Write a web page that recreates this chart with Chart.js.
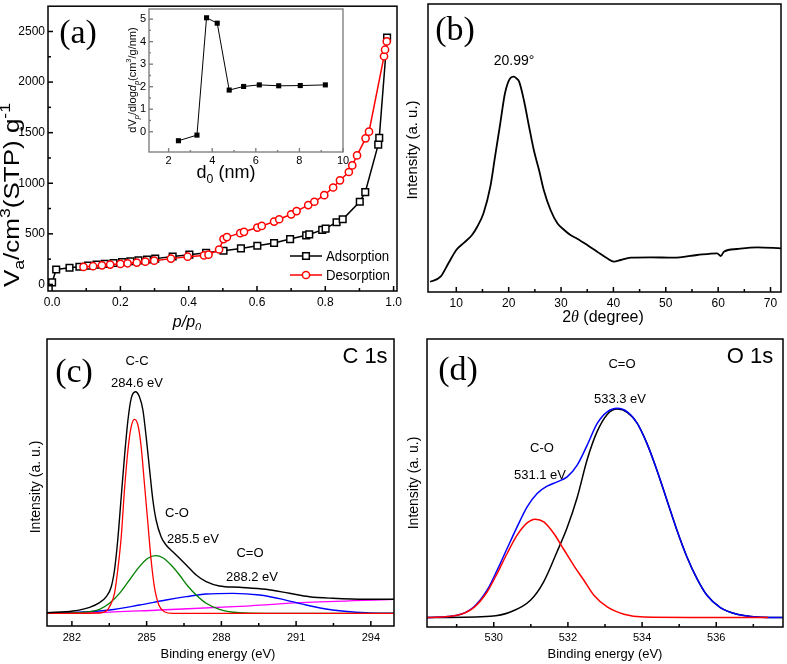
<!doctype html>
<html lang="en">
  <head>
    <meta charset="UTF-8" />
    <title>Pore, XRD and XPS characterization</title>
    <script src="https://cdn.jsdelivr.net/npm/chart.js"></script>
    <style>
      body { margin: 0; background: #fff; }
      #wrap { position: relative; width: 787px; height: 664px; overflow: hidden; }
      canvas { position: absolute; }
    </style>
  </head>
  <body>
    <div id="wrap">
      <canvas id="chartA" width="410" height="330" style="left:0px;top:0px"></canvas>
      <canvas id="chartInset" width="240" height="185" style="left:110px;top:0px"></canvas>
      <canvas id="chartB" width="387" height="330" style="left:400px;top:0px"></canvas>
      <canvas id="chartC" width="400" height="334" style="left:0px;top:330px"></canvas>
      <canvas id="chartD" width="387" height="334" style="left:400px;top:330px"></canvas>
    </div>

    <script>
      // (a) N2 isotherm, p/p0 vs adsorbed volume
      const adsP = [0.0, 0.012, 0.051, 0.08, 0.105, 0.13, 0.154, 0.18, 0.205, 0.229, 0.253, 0.278, 0.302, 0.353, 0.402, 0.451, 0.502, 0.553, 0.601, 0.65, 0.697, 0.744, 0.753, 0.791, 0.801, 0.833, 0.851, 0.901, 0.917, 0.955, 0.958, 0.981]
      const adsV = [20, 147, 165, 175, 186, 195, 203, 212, 220, 229, 238, 246, 255, 276, 294, 312, 333, 356, 382, 409, 448, 485, 494, 539, 552, 615, 644, 817, 912, 1382, 1448, 2441]
      const desP = [0.092, 0.12, 0.146, 0.17, 0.2, 0.221, 0.248, 0.273, 0.299, 0.348, 0.397, 0.445, 0.458, 0.489, 0.502, 0.512, 0.551, 0.562, 0.601, 0.614, 0.65, 0.665, 0.7, 0.716, 0.75, 0.768, 0.797, 0.823, 0.843, 0.869, 0.879, 0.893, 0.918, 0.928, 0.972, 0.975, 0.98]
      const desV = [173, 180, 189, 196, 203, 209, 216, 225, 235, 255, 274, 287, 294, 345, 448, 468, 507, 520, 562, 578, 621, 644, 693, 725, 784, 817, 882, 958, 1029, 1111, 1176, 1275, 1444, 1510, 2255, 2320, 2402]
      const aXTicks = [0, 0.2, 0.4, 0.6, 0.8, 1.0]
      const aXMinor = [0.1, 0.3, 0.5, 0.7, 0.9]
      const aYTicks = [0, 500, 1000, 1500, 2000, 2500]
      const aYMinor = [250, 750, 1250, 1750, 2250]

      // (a) inset, pore size distribution
      const poreD = [2.45, 3.3, 3.74, 4.23, 4.78, 5.44, 6.16, 7.05, 8.04, 9.19]
      const poreDV = [-0.4, -0.15, 5.06, 4.82, 1.85, 2.01, 2.08, 2.04, 2.05, 2.08]
      const insetXTicks = [2, 4, 6, 8, 10]
      const insetXMinor = [3, 5, 7, 9]
      const insetYTicks = [0, 1, 2, 3, 4, 5]
      const insetYMinor = [0.5, 1.5, 2.5, 3.5, 4.5]

      // (b) XRD
      const xrdAngle = [5.0, 7.0, 8.5, 10.0, 11.5, 13.0, 14.0, 15.2, 16.5, 17.4, 18.4, 19.3, 20.3, 21.0, 21.5, 22.0, 22.9, 23.9, 24.8, 25.8, 26.7, 28.0, 29.3, 30.6, 31.8, 33.1, 35.0, 36.9, 38.8, 40.1, 41.4, 43.3, 47.1, 51.5, 56.0, 59.8, 60.5, 61.1, 63.6, 67.5, 72.0]
      const xrdInt = [10.3, 15.3, 28.7, 42, 49.3, 57, 65.3, 78.7, 105.3, 135.3, 168.7, 198.7, 213.7, 215.3, 213.5, 210.3, 192, 165.3, 142, 122, 102, 82, 68.7, 62, 57, 53.3, 47, 40.3, 33.7, 30.3, 32, 34.3, 34.7, 34.3, 37, 38.7, 36, 40.3, 43, 44.7, 43.7]
      const bXTicks = [10, 20, 30, 40, 50, 60, 70]
      const bXMinor = [15, 25, 35, 45, 55, 65]

      // (c) C 1s
      const c1sE = [281.0, 282.04, 282.71, 283.11, 283.38, 283.58, 283.71, 283.84, 283.98, 284.11, 284.25, 284.38, 284.55, 284.71, 284.85, 284.98, 285.12, 285.25, 285.38, 285.58, 285.78, 286.05, 286.32, 286.59, 286.99, 287.39, 287.92, 288.72, 289.79, 290.73, 291.53, 292.47, 293.8, 295.0]
      const c1sI = [0.6, 2.3, 6, 10.7, 16.6, 26.6, 43.3, 73.3, 116.6, 156.6, 193.3, 215, 221.6, 216.6, 203.3, 176.6, 143.3, 113.3, 93.3, 76.6, 68.3, 61.6, 55, 48.3, 38.3, 31.6, 27.3, 26, 24, 20, 16.6, 15, 14, 14]
      const ccE = [281.0, 283.11, 283.38, 283.51, 283.71, 283.84, 283.98, 284.11, 284.25, 284.38, 284.51, 284.65, 284.78, 284.91, 285.05, 285.18, 285.31, 285.49, 285.71, 286.05, 295.0]
      const ccI = [0, 0.3, 2.3, 6.6, 20, 43.3, 76.6, 123.3, 163.3, 186.6, 194, 188.3, 166.6, 130, 90, 53.3, 26.6, 8.3, 1.6, 0, 0]
      const coE = [281.0, 282.44, 283.11, 283.51, 283.91, 284.31, 284.71, 285.05, 285.36, 285.65, 285.98, 286.32, 286.65, 286.99, 287.39, 287.92, 288.72, 289.79, 295.0]
      const coI = [0, 1, 4, 10, 20, 33.3, 46.6, 55, 57.6, 55.6, 48.3, 38.3, 27.3, 18.3, 10, 4, 0.6, 0, 0]
      const cdoE = [281.0, 282.44, 283.51, 284.71, 285.78, 286.59, 287.39, 288.46, 289.53, 290.46, 291.4, 292.47, 293.8, 295.0]
      const cdoI = [0, 1.3, 3.3, 8.3, 13.3, 16.6, 19.3, 20, 18.3, 14, 8.3, 3.3, 0.6, 0]
      const bgE = [281.0, 283.0, 285.5, 288.5, 291.2, 295.0]
      const bgI = [0, 0.6, 3.3, 6.6, 10.6, 14]
      const cXTicks = [282, 285, 288, 291, 294]
      const cXMinor = [283.5, 286.5, 289.5, 292.5]

      // (d) O 1s
      const o1sE = [528.2, 529.01, 529.46, 529.82, 530.09, 530.36, 530.63, 530.9, 531.17, 531.44, 531.71, 531.98, 532.25, 532.52, 532.79, 533.06, 533.33, 533.6, 533.87, 534.13, 534.4, 534.67, 534.94, 535.21, 535.48, 535.75, 536.11, 536.56, 537.1, 537.8]
      const o1sI = [0, 2.3, 10.6, 27.3, 47.3, 69, 90.6, 110.6, 124, 131.3, 135.6, 140.6, 152.3, 172.3, 194, 205.6, 209, 205.6, 194, 174, 147.3, 117.3, 87.3, 60.6, 39, 22.3, 10, 3.3, 0.6, 0]
      const oCoE = [528.2, 529.01, 529.46, 529.82, 530.09, 530.36, 530.63, 530.9, 531.12, 531.35, 531.62, 531.89, 532.16, 532.43, 532.7, 533.06, 533.51, 534.05, 537.4]
      const oCoI = [0, 2.3, 10, 25.6, 44, 64, 82.3, 94.6, 98.3, 95.6, 84, 68, 52, 37.3, 22.3, 10.6, 3.3, 0.6, 0]
      const oCdoE = [528.2, 529.91, 530.45, 530.99, 531.35, 531.71, 531.98, 532.25, 532.52, 532.79, 533.06, 533.33, 533.6, 533.87, 534.13, 534.4, 534.67, 534.94, 535.21, 535.48, 535.75, 536.11, 536.56, 537.1, 537.8]
      const oCdoI = [0, 1.3, 5.6, 17.3, 36, 66, 90, 120, 158, 186, 203, 208.3, 205, 194, 174, 147.3, 117.3, 87.3, 60.6, 39, 22.3, 10, 3.3, 0.6, 0]
      const dXTicks = [530, 532, 534, 536]
      const dXMinor = [529, 531, 533, 535, 537]

      const SANS = '"Liberation Sans", Arial, sans-serif'
      const SERIF = '"Liberation Serif", "Times New Roman", serif'
      Chart.defaults.font.family = SANS
      Chart.defaults.color = '#000'
      Chart.defaults.animation = false

      const pts = (xs, ys) => xs.map((x, i) => ({ x, y: ys[i] }))

      // text with sub/superscript parts, x/y is the centre of the line
      function drawRich(ctx, item) {
        const size = item.size || 13
        const family = item.family || SANS
        const parts = typeof item.text === 'string' ? [{ t: item.text }] : item.text
        const fontFor = (p) => {
          const s = p.sub || p.sup ? size * 0.68 : size
          return (p.italic ? 'italic ' : '') + s + 'px ' + (p.family || family)
        }
        ctx.save()
        ctx.translate(item.x, item.y)
        if (item.rotate) ctx.rotate(item.rotate)
        ctx.scale(item.sx || 1, item.sy || 1)
        ctx.fillStyle = item.color || '#000'
        ctx.textBaseline = 'alphabetic'
        let total = 0
        const widths = parts.map((p) => {
          ctx.font = fontFor(p)
          const w = ctx.measureText(p.t).width
          total += w
          return w
        })
        let x = item.align === 'left' ? 0 : -total / 2
        const base = size * 0.36
        parts.forEach((p, i) => {
          ctx.font = fontFor(p)
          const dy = p.sub ? size * 0.25 : p.sup ? -size * 0.42 : 0
          ctx.fillText(p.t, x, base + dy)
          x += widths[i]
        })
        ctx.restore()
      }

      // frame box, inward ticks and free text
      function decor(cfg) {
        return {
          id: 'decor',
          afterDatasetsDraw(chart) {
            const { ctx, chartArea: a, scales } = chart
            ctx.save()
            ctx.strokeStyle = cfg.frameColor || '#000'
            ctx.lineWidth = cfg.frameWidth || 1.5
            const mark = (scale, values, len) => {
              values.forEach((v) => {
                const p = scale.getPixelForValue(v)
                ctx.beginPath()
                if (scale.isHorizontal()) {
                  ctx.moveTo(p, a.bottom)
                  ctx.lineTo(p, a.bottom - len)
                } else {
                  ctx.moveTo(a.left, p)
                  ctx.lineTo(a.left + len, p)
                }
                ctx.stroke()
              })
            }
            const major = cfg.major || 5
            const minor = cfg.minor || 3
            if (cfg.xMajor) mark(scales.x, cfg.xMajor, major)
            if (cfg.xMinor) mark(scales.x, cfg.xMinor, minor)
            if (cfg.yMajor) mark(scales.y, cfg.yMajor, major)
            if (cfg.yMinor) mark(scales.y, cfg.yMinor, minor)
            ctx.strokeRect(a.left, a.top, a.right - a.left, a.bottom - a.top)
            ctx.restore()
          },
          afterDraw(chart) {
            ;(cfg.texts || []).forEach((t) => drawRich(chart.ctx, t))
            if (cfg.extra) cfg.extra(chart.ctx)
          },
        }
      }

      function xAxis(min, max, ticks, size, pad, height, fmt) {
        return {
          type: 'linear',
          min,
          max,
          afterFit: (s) => {
            s.height = height
            s.paddingLeft = s.paddingRight = s.paddingTop = s.paddingBottom = 0
          },
          afterBuildTicks: (s) => {
            s.ticks = ticks.map((v) => ({ value: v }))
          },
          grid: { display: false, drawTicks: false },
          border: { display: false },
          ticks: { font: { size }, color: '#000', padding: pad, maxRotation: 0, autoSkip: false, callback: fmt || ((v) => String(v)) },
        }
      }

      function yAxis(min, max, ticks, size, pad, width) {
        const show = !!ticks
        return {
          type: 'linear',
          min,
          max,
          display: show,
          afterFit: (s) => {
            s.width = show ? width : 0
            s.paddingLeft = s.paddingRight = s.paddingTop = s.paddingBottom = 0
          },
          afterBuildTicks: (s) => {
            if (show) s.ticks = ticks.map((v) => ({ value: v }))
          },
          grid: { display: false, drawTicks: false },
          border: { display: false },
          ticks: { display: show, font: { size: size || 11 }, color: '#000', padding: pad || 3, autoSkip: false, callback: (v) => String(v) },
        }
      }

      function baseOptions(padding, x, y) {
        return {
          responsive: false,
          animation: false,
          layout: { padding },
          scales: { x, y },
          plugins: { legend: { display: false }, tooltip: { enabled: false } },
        }
      }

      function curve(xs, ys, color, width) {
        return {
          data: pts(xs, ys),
          borderColor: color,
          borderWidth: width || 1.3,
          pointRadius: 0,
          cubicInterpolationMode: 'monotone',
          fill: false,
        }
      }

      const UP = -Math.PI / 2

      // ---------- (a) ----------
      new Chart(document.getElementById('chartA'), {
        type: 'line',
        data: {
          datasets: [
            {
              data: pts(desP, desV),
              borderColor: '#ff0000',
              borderWidth: 1.5,
              pointStyle: 'circle',
              pointRadius: 3.6,
              pointBorderWidth: 1.5,
              pointBorderColor: '#ff0000',
              pointBackgroundColor: '#fff',
              tension: 0,
            },
            {
              data: pts(adsP, adsV),
              borderColor: '#000',
              borderWidth: 1.5,
              pointStyle: 'rect',
              pointRadius: 4.7,
              pointBorderWidth: 1.5,
              pointBorderColor: '#000',
              pointBackgroundColor: '#fff',
              tension: 0,
            },
          ],
        },
        options: baseOptions(
          { left: 0, top: 4, right: 13, bottom: 0 },
          xAxis(-0.012, 1.01, aXTicks, 12, 4, 39, (v) => v.toFixed(1)),
          yAxis(-65, 2750, aYTicks, 12, 3, 48),
        ),
        plugins: [
          decor({
            xMajor: aXTicks,
            xMinor: aXMinor,
            yMajor: aYTicks,
            yMinor: aYMinor,
            texts: [
              { x: 78, y: 31, text: '(a)', size: 34, family: SERIF },
              {
                x: 11,
                y: 195,
                rotate: UP,
                size: 26,
                sy: 0.82,
                text: [{ t: 'V' }, { t: 'a', sub: true }, { t: '/cm' }, { t: '3', sup: true }, { t: '(STP) g' }, { t: '-1', sup: true }],
              },
              { x: 187, y: 321, size: 16, text: [{ t: 'p/p', italic: true }, { t: '0', sub: true, italic: true }] },
            ],
            extra: (ctx) => {
              const rows = [
                { y: 256, color: '#000', style: 'rect', label: 'Adsorption' },
                { y: 275, color: '#ff0000', style: 'circle', label: 'Desorption' },
              ]
              rows.forEach((r) => {
                ctx.save()
                ctx.strokeStyle = r.color
                ctx.lineWidth = 1.5
                ctx.beginPath()
                ctx.moveTo(290, r.y)
                ctx.lineTo(322, r.y)
                ctx.stroke()
                ctx.fillStyle = '#fff'
                ctx.beginPath()
                if (r.style === 'rect') ctx.rect(302.7, r.y - 3.3, 6.6, 6.6)
                else ctx.arc(306, r.y, 3.6, 0, Math.PI * 2)
                ctx.fill()
                ctx.stroke()
                ctx.restore()
                drawRich(ctx, { x: 326, y: r.y, size: 15, sx: 0.88, align: 'left', text: r.label })
              })
            },
          }),
        ],
      })

      // ---------- (a) inset ----------
      new Chart(document.getElementById('chartInset'), {
        type: 'line',
        data: {
          datasets: [
            {
              data: pts(poreD, poreDV),
              borderColor: '#000',
              borderWidth: 1,
              pointStyle: 'rect',
              pointRadius: 3.6,
              pointBorderWidth: 0,
              pointBackgroundColor: '#000',
              tension: 0,
            },
          ],
        },
        options: baseOptions(
          { left: 0, top: 9, right: 7, bottom: 0 },
          xAxis(1.1, 10, insetXTicks, 11, 2, 33),
          yAxis(-0.9, 5.45, insetYTicks, 11, 3, 39),
        ),
        plugins: [
          decor({
            frameColor: '#808080',
            frameWidth: 1.4,
            major: 4,
            minor: 2,
            xMajor: insetXTicks,
            xMinor: insetXMinor,
            yMajor: insetYTicks,
            yMinor: insetYMinor,
            texts: [
              {
                x: 22,
                y: 80,
                rotate: UP,
                size: 11,
                text: [
                  { t: 'dV' },
                  { t: 'p', sub: true, italic: true },
                  { t: '/dlog' },
                  { t: 'd', italic: true },
                  { t: 'p', sub: true, italic: true },
                  { t: '(cm' },
                  { t: '3', sup: true },
                  { t: '/g/nm)' },
                ],
              },
              { x: 116, y: 172, size: 18, text: [{ t: 'd' }, { t: '0', sub: true }, { t: ' (nm)' }] },
            ],
          }),
        ],
      })

      // ---------- (b) ----------
      new Chart(document.getElementById('chartB'), {
        type: 'line',
        data: { datasets: [curve(xrdAngle, xrdInt, '#000', 1.8)] },
        options: baseOptions({ left: 28, top: 4, right: 6, bottom: 0 }, xAxis(4.6, 72, bXTicks, 12, 4, 38), yAxis(0, 288)),
        plugins: [
          decor({
            xMajor: bXTicks,
            xMinor: bXMinor,
            texts: [
              { x: 55, y: 28, text: '(b)', size: 34, family: SERIF },
              { x: 114, y: 60, text: '20.99°', size: 14 },
              { x: 12, y: 150, rotate: UP, size: 15, text: 'Intensity (a. u.)' },
              { x: 203, y: 316, size: 16, text: [{ t: '2' }, { t: 'θ', italic: true, family: SERIF }, { t: ' (degree)' }] },
            ],
          }),
        ],
      })

      // ---------- (c) ----------
      new Chart(document.getElementById('chartC'), {
        type: 'line',
        data: {
          datasets: [
            curve(c1sE, c1sI, '#000', 1.4),
            curve(ccE, ccI, '#ff0000', 1.3),
            curve(coE, coI, '#008000', 1.3),
            curve(cdoE, cdoI, '#0000ff', 1.3),
            curve(bgE, bgI, '#ff00ff', 1.3),
          ],
        },
        options: baseOptions({ left: 47, top: 9, right: 6, bottom: 0 }, xAxis(281, 294.93, cXTicks, 11, 5, 38), yAxis(-12.7, 274.3)),
        plugins: [
          decor({
            xMajor: cXTicks,
            xMinor: cXMinor,
            texts: [
              { x: 74, y: 40, text: '(c)', size: 34, family: SERIF },
              { x: 365, y: 25, text: 'C 1s', size: 22 },
              { x: 137, y: 30, text: 'C-C', size: 13 },
              { x: 137, y: 52, text: '284.6 eV', size: 13 },
              { x: 177, y: 182, text: 'C-O', size: 13 },
              { x: 193, y: 208, text: '285.5 eV', size: 13 },
              { x: 250, y: 222, text: 'C=O', size: 13 },
              { x: 252, y: 246, text: '288.2 eV', size: 13 },
              { x: 35, y: 157, rotate: UP, size: 14, text: 'Intensity (a. u.)' },
              { x: 218, y: 323, size: 13, text: 'Binding energy (eV)' },
            ],
          }),
        ],
      })

      // ---------- (d) ----------
      new Chart(document.getElementById('chartD'), {
        type: 'line',
        data: {
          datasets: [
            curve(oCoE, oCoI, '#ff0000', 1.5),
            curve(o1sE, o1sI, '#0000ff', 1.5),
            curve(oCdoE, oCdoI, '#000', 1.5),
          ],
        },
        options: baseOptions({ left: 27, top: 9, right: 4, bottom: 0 }, xAxis(528.2, 537.8, dXTicks, 11, 4, 37), yAxis(-9.4, 278.3)),
        plugins: [
          decor({
            xMajor: dXTicks,
            xMinor: dXMinor,
            texts: [
              { x: 58, y: 38, text: '(d)', size: 34, family: SERIF },
              { x: 350, y: 25, text: 'O 1s', size: 22 },
              { x: 222, y: 33, text: 'C=O', size: 13 },
              { x: 220, y: 68, text: '533.3 eV', size: 13 },
              { x: 142, y: 117, text: 'C-O', size: 13 },
              { x: 140, y: 144, text: '531.1 eV', size: 13 },
              { x: 13, y: 153, rotate: UP, size: 14, text: 'Intensity (a. u.)' },
              { x: 205, y: 323, size: 13, text: 'Binding energy (eV)' },
            ],
          }),
        ],
      })
    </script>
  </body>
</html>
